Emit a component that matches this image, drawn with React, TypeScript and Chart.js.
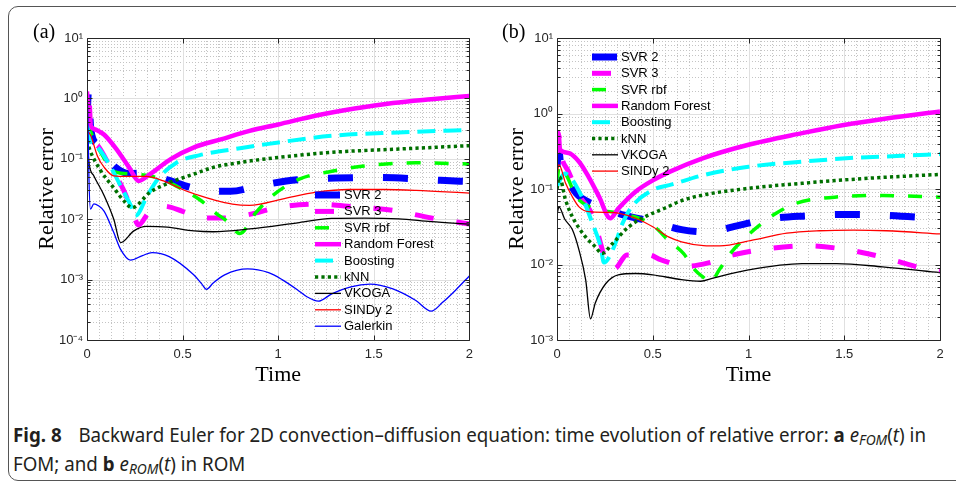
import { useEffect, useLayoutEffect, useRef, useState } from 'react';
import { Chart, registerables } from 'chart.js';

Chart.register(...registerables);

const SANS = '"Liberation Sans", Arial, Helvetica, sans-serif';
const SERIF = '"Liberation Serif", "Times New Roman", serif';

// ---------- categories / ticks ----------
const seriesNames = ['SVR 2', 'SVR 3', 'SVR rbf', 'Random Forest', 'Boosting', 'kNN', 'VKOGA', 'SINDy 2', 'Galerkin'];
const xTicks = [0, 0.5, 1, 1.5, 2];
const yTicksA = [1e-4, 1e-3, 1e-2, 1e-1, 1, 10];
const yTicksB = [1e-3, 1e-2, 1e-1, 1, 10];
const X_MINOR = 0.0625;

// ---------- panel (a): FOM ----------
const a_svr2_t = [0, 0.008, 0.02, 0.06, 0.1, 0.15, 0.22, 0.3, 0.42, 0.55, 0.65, 0.75, 0.9, 1.1, 1.3, 1.5, 1.7, 1.85, 2.0];
const a_svr2_v = [0.45, 1.3, 0.3, 0.17, 0.11, 0.072, 0.057, 0.058, 0.045, 0.033, 0.029, 0.029, 0.036, 0.045, 0.048, 0.049, 0.047, 0.044, 0.042];
const a_svr3_t = [0, 0.008, 0.02, 0.06, 0.12, 0.19, 0.235, 0.27, 0.32, 0.4, 0.5, 0.6, 0.72, 0.85, 1.0, 1.2, 1.4, 1.6, 1.8, 2.0];
const a_svr3_v = [0.45, 1.3, 0.3, 0.16, 0.075, 0.031, 0.014, 0.008, 0.0125, 0.0165, 0.0135, 0.0105, 0.0105, 0.012, 0.0157, 0.0177, 0.016, 0.014, 0.0105, 0.0083];
const a_rbf_t = [0, 0.015, 0.07, 0.15, 0.24, 0.33, 0.415, 0.5, 0.59, 0.675, 0.73, 0.8, 0.88, 0.97, 1.11, 1.28, 1.45, 1.72, 2.0];
const a_rbf_v = [0.4, 0.3, 0.13, 0.06, 0.056, 0.052, 0.043, 0.031, 0.021, 0.0125, 0.0094, 0.0058, 0.0125, 0.0245, 0.046, 0.062, 0.076, 0.086, 0.082];
const a_rf_t = [0, 0.01, 0.016, 0.05, 0.09, 0.15, 0.22, 0.271, 0.33, 0.44, 0.56, 0.7, 0.85, 1.0, 1.2, 1.4, 1.6, 1.8, 2.0];
const a_rf_v = [1.3, 0.5, 0.37, 0.3, 0.25, 0.15, 0.072, 0.043, 0.056, 0.1, 0.155, 0.21, 0.29, 0.37, 0.52, 0.68, 0.84, 0.97, 1.1];
const a_boost_t = [0, 0.02, 0.055, 0.12, 0.175, 0.23, 0.254, 0.315, 0.37, 0.47, 0.59, 0.8, 0.94, 1.28, 1.63, 2.0];
const a_boost_v = [0.35, 0.19, 0.155, 0.077, 0.036, 0.0166, 0.0114, 0.0245, 0.046, 0.087, 0.115, 0.15, 0.175, 0.24, 0.273, 0.3];
const a_knn_t = [0, 0.015, 0.07, 0.14, 0.2, 0.235, 0.33, 0.43, 0.56, 0.66, 0.8, 0.94, 1.28, 1.63, 2.0];
const a_knn_v = [0.2, 0.14, 0.065, 0.033, 0.019, 0.0155, 0.028, 0.04, 0.056, 0.072, 0.087, 0.1, 0.128, 0.145, 0.165];
const a_vkoga_t = [0, 0.01, 0.036, 0.09, 0.14, 0.176, 0.245, 0.31, 0.42, 0.56, 0.66, 0.85, 1.11, 1.28, 1.45, 1.63, 1.8, 2.0];
const a_vkoga_v = [0.25, 0.087, 0.052, 0.0245, 0.01, 0.0041, 0.0064, 0.0076, 0.0074, 0.0064, 0.0062, 0.0069, 0.0088, 0.0103, 0.0104, 0.0101, 0.0091, 0.0083];
const a_sindy_t = [0, 0.02, 0.055, 0.09, 0.14, 0.21, 0.31, 0.4, 0.5, 0.59, 0.66, 0.76, 0.85, 1.02, 1.2, 1.37, 1.55, 1.72, 2.0];
const a_sindy_v = [0.3, 0.24, 0.11, 0.072, 0.052, 0.051, 0.051, 0.043, 0.031, 0.0245, 0.021, 0.0178, 0.017, 0.0215, 0.028, 0.031, 0.031, 0.03, 0.027];
const a_gal_t = [0, 0.004, 0.01, 0.018, 0.036, 0.06, 0.09, 0.14, 0.175, 0.228, 0.29, 0.34, 0.43, 0.558, 0.6, 0.625, 0.66, 0.72, 0.84, 0.95, 1.02, 1.1, 1.15, 1.21, 1.28, 1.38, 1.48, 1.6, 1.72, 1.8, 1.86, 1.93, 2.0];
const a_gal_v = [1.2, 0.6, 0.05, 0.0147, 0.018, 0.0167, 0.0135, 0.006, 0.0032, 0.0021, 0.0025, 0.0028, 0.0024, 0.0012, 0.00085, 0.00069, 0.00088, 0.0012, 0.0015, 0.0013, 0.001, 0.00068, 0.00052, 0.00044, 0.00058, 0.00076, 0.00084, 0.0007, 0.00045, 0.0003, 0.00042, 0.00068, 0.00115];

// ---------- panel (b): ROM ----------
const b_svr2_t = [0, 0.01, 0.02, 0.05, 0.1, 0.16, 0.24, 0.35, 0.5, 0.65, 0.78, 0.95, 1.1, 1.3, 1.5, 1.7, 1.9, 2.0];
const b_svr2_v = [0.2, 0.32, 0.2, 0.14, 0.088, 0.068, 0.057, 0.045, 0.037, 0.029, 0.027, 0.033, 0.04, 0.044, 0.046, 0.045, 0.042, 0.04];
const b_svr3_t = [0, 0.01, 0.02, 0.06, 0.12, 0.19, 0.23, 0.27, 0.3, 0.365, 0.48, 0.54, 0.68, 0.79, 0.92, 1.12, 1.3, 1.45, 1.63, 1.78, 1.88, 2.0];
const b_svr3_v = [0.3, 0.5, 0.3, 0.17, 0.08, 0.042, 0.018, 0.0088, 0.0088, 0.0134, 0.0134, 0.0116, 0.0095, 0.0105, 0.0134, 0.0164, 0.0177, 0.0166, 0.0138, 0.011, 0.0093, 0.0082];
const b_rbf_t = [0, 0.012, 0.05, 0.1, 0.17, 0.32, 0.45, 0.52, 0.58, 0.66, 0.72, 0.76, 0.8, 0.85, 0.91, 0.97, 1.05, 1.14, 1.25, 1.45, 1.7, 2.0];
const b_rbf_v = [0.12, 0.2, 0.15, 0.08, 0.058, 0.048, 0.039, 0.03, 0.021, 0.014, 0.0085, 0.0069, 0.0059, 0.0087, 0.0145, 0.021, 0.032, 0.047, 0.065, 0.078, 0.082, 0.078];
const b_rf_t = [0, 0.008, 0.016, 0.06, 0.115, 0.165, 0.22, 0.278, 0.32, 0.41, 0.5, 0.59, 0.76, 0.99, 1.28, 1.49, 1.72, 2.0];
const b_rf_v = [0.35, 0.55, 0.33, 0.3, 0.23, 0.145, 0.079, 0.041, 0.055, 0.092, 0.13, 0.17, 0.255, 0.38, 0.55, 0.7, 0.86, 1.06];
const b_boost_t = [0, 0.04, 0.13, 0.185, 0.228, 0.245, 0.298, 0.342, 0.39, 0.5, 0.6, 0.765, 1.0, 1.28, 1.56, 1.8, 2.0];
const b_boost_v = [0.11, 0.16, 0.079, 0.035, 0.0172, 0.0106, 0.0172, 0.035, 0.058, 0.097, 0.115, 0.153, 0.197, 0.23, 0.26, 0.275, 0.29];
const b_knn_t = [0, 0.012, 0.045, 0.08, 0.15, 0.2, 0.235, 0.29, 0.375, 0.46, 0.565, 0.65, 0.76, 1.0, 1.28, 1.63, 2.0];
const b_knn_v = [0.1, 0.145, 0.071, 0.043, 0.023, 0.0172, 0.014, 0.019, 0.0316, 0.043, 0.056, 0.07, 0.083, 0.102, 0.119, 0.139, 0.156];
const b_vkoga_t = [0, 0.01, 0.04, 0.08, 0.115, 0.15, 0.175, 0.2, 0.255, 0.32, 0.41, 0.5, 0.65, 0.75, 0.815, 1.0, 1.28, 1.46, 1.7, 2.0];
const b_vkoga_v = [0.045, 0.058, 0.04, 0.029, 0.0155, 0.0062, 0.0019, 0.0031, 0.0056, 0.0073, 0.0076, 0.0073, 0.0063, 0.006, 0.0066, 0.0085, 0.0103, 0.0103, 0.0093, 0.0078];
const b_sindy_t = [0, 0.01, 0.045, 0.08, 0.115, 0.165, 0.27, 0.32, 0.41, 0.5, 0.585, 0.65, 0.765, 0.85, 1.02, 1.2, 1.37, 1.55, 1.72, 2.0];
const b_sindy_v = [0.15, 0.21, 0.119, 0.079, 0.058, 0.05, 0.049, 0.048, 0.041, 0.0316, 0.023, 0.02, 0.0178, 0.0176, 0.021, 0.026, 0.028, 0.0286, 0.028, 0.0254];

const panelASeries: [number[], number[]][] = [
  [a_svr2_t, a_svr2_v], [a_svr3_t, a_svr3_v], [a_rbf_t, a_rbf_v], [a_rf_t, a_rf_v], [a_boost_t, a_boost_v],
  [a_knn_t, a_knn_v], [a_vkoga_t, a_vkoga_v], [a_sindy_t, a_sindy_v], [a_gal_t, a_gal_v],
];
const panelBSeries: [number[], number[]][] = [
  [b_svr2_t, b_svr2_v], [b_svr3_t, b_svr3_v], [b_rbf_t, b_rbf_v], [b_rf_t, b_rf_v], [b_boost_t, b_boost_v],
  [b_knn_t, b_knn_v], [b_vkoga_t, b_vkoga_v], [b_sindy_t, b_sindy_v],
];

// ---------- styles ----------
const seriesStyles = [
  { color: '#0000ff', width: 7, dash: [25, 30] },
  { color: '#ff00ff', width: 5, dash: [19, 23] },
  { color: '#00ff00', width: 3.5, dash: [14, 14] },
  { color: '#ff00ff', width: 4.5, dash: [] as number[] },
  { color: '#00ffff', width: 4, dash: [18, 8] },
  { color: '#007000', width: 3.5, dash: [3.2, 3.2] },
  { color: '#000000', width: 1.3, dash: [] as number[] },
  { color: '#ff0000', width: 1.3, dash: [] as number[] },
  { color: '#0000ff', width: 1.3, dash: [] as number[] },
];

const SUP: Record<string, string> = { '0': '⁰', '1': '¹', '2': '²', '3': '³', '4': '⁴', '5': '⁵', '-': '⁻' };
const fmtPow = (v: number) => {
  const e = Math.round(Math.log10(v));
  return '10' + String(e).split('').map((c) => SUP[c]).join('');
};

function buildDatasets(series: [number[], number[]][]) {
  return series.map(([t, v], i) => ({
    label: seriesNames[i],
    data: t.map((x, k) => ({ x, y: v[k] })),
    borderColor: seriesStyles[i].color,
    borderWidth: seriesStyles[i].width,
    borderDash: seriesStyles[i].dash,
    borderCapStyle: 'butt',
    borderJoinStyle: 'round',
    pointRadius: 0,
    fill: false,
    cubicInterpolationMode: 'monotone',
    order: series.length - i,
  }));
}

// ---------- plugins ----------
const gridPlugin = {
  id: 'mgrid',
  beforeDatasetsDraw(chart: any) {
    const { ctx, chartArea: ca, scales } = chart;
    const xs = scales.x;
    const ys = scales.y;
    ctx.save();
    ctx.lineWidth = 1;
    ctx.strokeStyle = '#c4c4c4';
    ctx.setLineDash([1, 2]);
    ctx.beginPath();
    for (let k = 1; k * X_MINOR < 2 - 1e-9; k++) {
      const v = k * X_MINOR;
      if (Math.abs(v / 0.5 - Math.round(v / 0.5)) < 1e-9) continue;
      const px = Math.round(xs.getPixelForValue(v)) + 0.5;
      ctx.moveTo(px, ca.top);
      ctx.lineTo(px, ca.bottom);
    }
    const lo = Math.round(Math.log10(ys.min));
    const hi = Math.round(Math.log10(ys.max));
    for (let d = lo; d < hi; d++) {
      for (let m = 2; m <= 9; m++) {
        const py = Math.round(ys.getPixelForValue(m * Math.pow(10, d))) + 0.5;
        ctx.moveTo(ca.left, py);
        ctx.lineTo(ca.right, py);
      }
    }
    ctx.stroke();
    ctx.setLineDash([]);
    ctx.strokeStyle = '#e0e0e0';
    ctx.beginPath();
    xTicks.slice(1, -1).forEach((v) => {
      const px = Math.round(xs.getPixelForValue(v)) + 0.5;
      ctx.moveTo(px, ca.top);
      ctx.lineTo(px, ca.bottom);
    });
    for (let d = lo + 1; d < hi; d++) {
      const py = Math.round(ys.getPixelForValue(Math.pow(10, d))) + 0.5;
      ctx.moveTo(ca.left, py);
      ctx.lineTo(ca.right, py);
    }
    ctx.stroke();
    ctx.restore();
  },
  afterDatasetsDraw(chart: any) {
    const { ctx, chartArea: ca, scales } = chart;
    const xs = scales.x;
    const ys = scales.y;
    const L = Math.round(ca.left) + 0.5;
    const R = Math.round(ca.right) + 0.5;
    const T = Math.round(ca.top) + 0.5;
    const B = Math.round(ca.bottom) + 0.5;
    ctx.save();
    ctx.strokeStyle = '#262626';
    ctx.lineWidth = 1;
    ctx.beginPath();
    ctx.rect(L, T, R - L, B - T);
    const lo = Math.round(Math.log10(ys.min));
    const hi = Math.round(Math.log10(ys.max));
    for (let d = lo; d <= hi; d++) {
      for (let m = 1; m <= 9; m++) {
        if (d === hi && m > 1) break;
        const py = Math.round(ys.getPixelForValue(m * Math.pow(10, d))) + 0.5;
        const len = m === 1 ? 5 : 3;
        ctx.moveTo(L, py);
        ctx.lineTo(L + len, py);
        ctx.moveTo(R, py);
        ctx.lineTo(R - len, py);
      }
    }
    xTicks.forEach((v) => {
      const px = Math.round(xs.getPixelForValue(v)) + 0.5;
      ctx.moveTo(px, B);
      ctx.lineTo(px, B - 5);
      ctx.moveTo(px, T);
      ctx.lineTo(px, T + 5);
    });
    ctx.stroke();
    ctx.restore();
  },
};

const legendPlugin = {
  id: 'mlegend',
  afterDraw(chart: any, _args: any, opts: any) {
    const { ctx } = chart;
    ctx.save();
    ctx.font = `13px ${SANS}`;
    ctx.textBaseline = 'middle';
    ctx.textAlign = 'left';
    chart.data.datasets.forEach((ds: any, i: number) => {
      const y = opts.y + i * opts.gap;
      ctx.save();
      ctx.strokeStyle = ds.borderColor;
      ctx.lineWidth = ds.borderWidth;
      ctx.setLineDash(ds.borderDash || []);
      ctx.lineCap = 'butt';
      ctx.beginPath();
      ctx.moveTo(opts.x, y);
      ctx.lineTo(opts.x + opts.len, y);
      ctx.stroke();
      ctx.restore();
      ctx.fillStyle = '#000';
      ctx.fillText(ds.label, opts.x + opts.len + opts.textGap, y + 0.5);
    });
    ctx.restore();
  },
};

interface PanelDef {
  series: [number[], number[]][];
  yTicks: number[];
  width: number;
  height: number;
  padLeft: number;
  yAxisW: number;
  padRight: number;
  legend: { x: number; y: number; gap: number; len: number; textGap: number };
}

function ChartPanel({ def, left }: { def: PanelDef; left: number }) {
  const ref = useRef<HTMLCanvasElement>(null);
  useEffect(() => {
    if (!ref.current) return;
    const yMin = def.yTicks[0];
    const yMax = def.yTicks[def.yTicks.length - 1];
    const chart = new Chart(ref.current, {
      type: 'line',
      data: { datasets: buildDatasets(def.series) as any },
      plugins: [gridPlugin, legendPlugin],
      options: {
        animation: false,
        responsive: false,
        devicePixelRatio: 1,
        events: [],
        layout: { padding: { left: def.padLeft, top: 38, right: def.padRight, bottom: 0 } },
        plugins: {
          legend: { display: false },
          tooltip: { enabled: false },
          mlegend: def.legend,
        } as any,
        scales: {
          x: {
            type: 'linear',
            min: 0,
            max: 2,
            afterBuildTicks: (s: any) => {
              s.ticks = xTicks.map((v) => ({ value: v }));
            },
            afterFit: (s: any) => {
              s.height = 60;
            },
            grid: { display: false, drawTicks: false },
            border: { display: false },
            ticks: {
              font: { family: SANS, size: 13 },
              color: '#262626',
              padding: 7,
              maxRotation: 0,
              autoSkip: false,
              callback: (v: any) => String(v),
            },
            title: {
              display: true,
              text: 'Time',
              font: { family: SERIF, size: 22 },
              color: '#000',
              padding: { top: 0, bottom: 12 },
            },
          },
          y: {
            type: 'logarithmic',
            min: yMin,
            max: yMax,
            afterBuildTicks: (s: any) => {
              s.ticks = def.yTicks.map((v) => ({ value: v, major: true }));
            },
            afterFit: (s: any) => {
              s.width = def.yAxisW;
            },
            grid: { display: false, drawTicks: false },
            border: { display: false },
            ticks: {
              font: { family: SANS, size: 13 },
              color: '#262626',
              padding: 4,
              autoSkip: false,
              callback: (v: any) => fmtPow(Number(v)),
            },
            title: {
              display: true,
              text: 'Relative error',
              font: { family: SERIF, size: 22 },
              color: '#000',
              padding: 0,
            },
          },
        },
      } as any,
    });
    return () => chart.destroy();
  }, [def]);
  return (
    <canvas
      ref={ref}
      width={def.width}
      height={def.height}
      style={{ position: 'absolute', left, top: 0, width: def.width, height: def.height }}
    />
  );
}

const panelA: PanelDef = {
  series: panelASeries,
  yTicks: yTicksA,
  width: 480,
  height: 400,
  padLeft: 34,
  yAxisW: 53,
  padRight: 9,
  legend: { x: 315, y: 195, gap: 16.4, len: 26, textGap: 3 },
};
const panelB: PanelDef = {
  series: panelBSeries,
  yTicks: yTicksB,
  width: 476,
  height: 400,
  padLeft: 24,
  yAxisW: 53,
  padRight: 16,
  legend: { x: 112, y: 57, gap: 16.3, len: 26, textGap: 3 },
};

function Caption() {
  const ref = useRef<HTMLSpanElement>(null);
  const [sx, setSx] = useState(1);
  useLayoutEffect(() => {
    if (ref.current) {
      const w = ref.current.getBoundingClientRect().width;
      if (w > 0) setSx(913 / w);
    }
  }, []);
  const base: React.CSSProperties = {
    position: 'absolute',
    left: 13,
    top: 423,
    fontFamily: '"Noto Sans", "Open Sans", sans-serif',
    fontSize: 19,
    lineHeight: '24px',
    color: '#231f20',
    whiteSpace: 'nowrap',
    transform: `scaleX(${sx})`,
    transformOrigin: '0 0',
  };
  const sub: React.CSSProperties = { fontSize: 14, fontStyle: 'italic', verticalAlign: '-3px' };
  return (
    <div style={base}>
      <span ref={ref} style={{ display: 'inline-block' }}>
        <b>Fig. 8</b>
        <span style={{ display: 'inline-block', width: 17 }} />
        Backward Euler for 2D convection–diffusion equation: time evolution of relative error: <b>a</b>{' '}
        <i>e</i>
        <span style={sub}>FOM</span>(<i>t</i>) in
      </span>
      <br />
      <span style={{ display: 'inline-block' }}>
        FOM; and <b>b</b> <i>e</i>
        <span style={sub}>ROM</span>(<i>t</i>) in ROM
      </span>
    </div>
  );
}

export default function App() {
  const lbl: React.CSSProperties = {
    position: 'absolute',
    top: 21,
    fontFamily: SERIF,
    fontSize: 20,
    lineHeight: '20px',
    color: '#000',
  };
  return (
    <div style={{ position: 'absolute', left: 0, top: 0, width: 956, height: 482, overflow: 'hidden', background: '#fff' }}>
      <div
        style={{
          position: 'absolute',
          left: 8,
          top: 6,
          width: 1000,
          height: 475,
          border: '1px solid #555',
          borderRadius: 10,
          boxSizing: 'border-box',
        }}
      />
      <ChartPanel def={panelA} left={0} />
      <ChartPanel def={panelB} left={480} />
      <div style={{ ...lbl, left: 33 }}>(a)</div>
      <div style={{ ...lbl, left: 502 }}>(b)</div>
      <Caption />
    </div>
  );
}
